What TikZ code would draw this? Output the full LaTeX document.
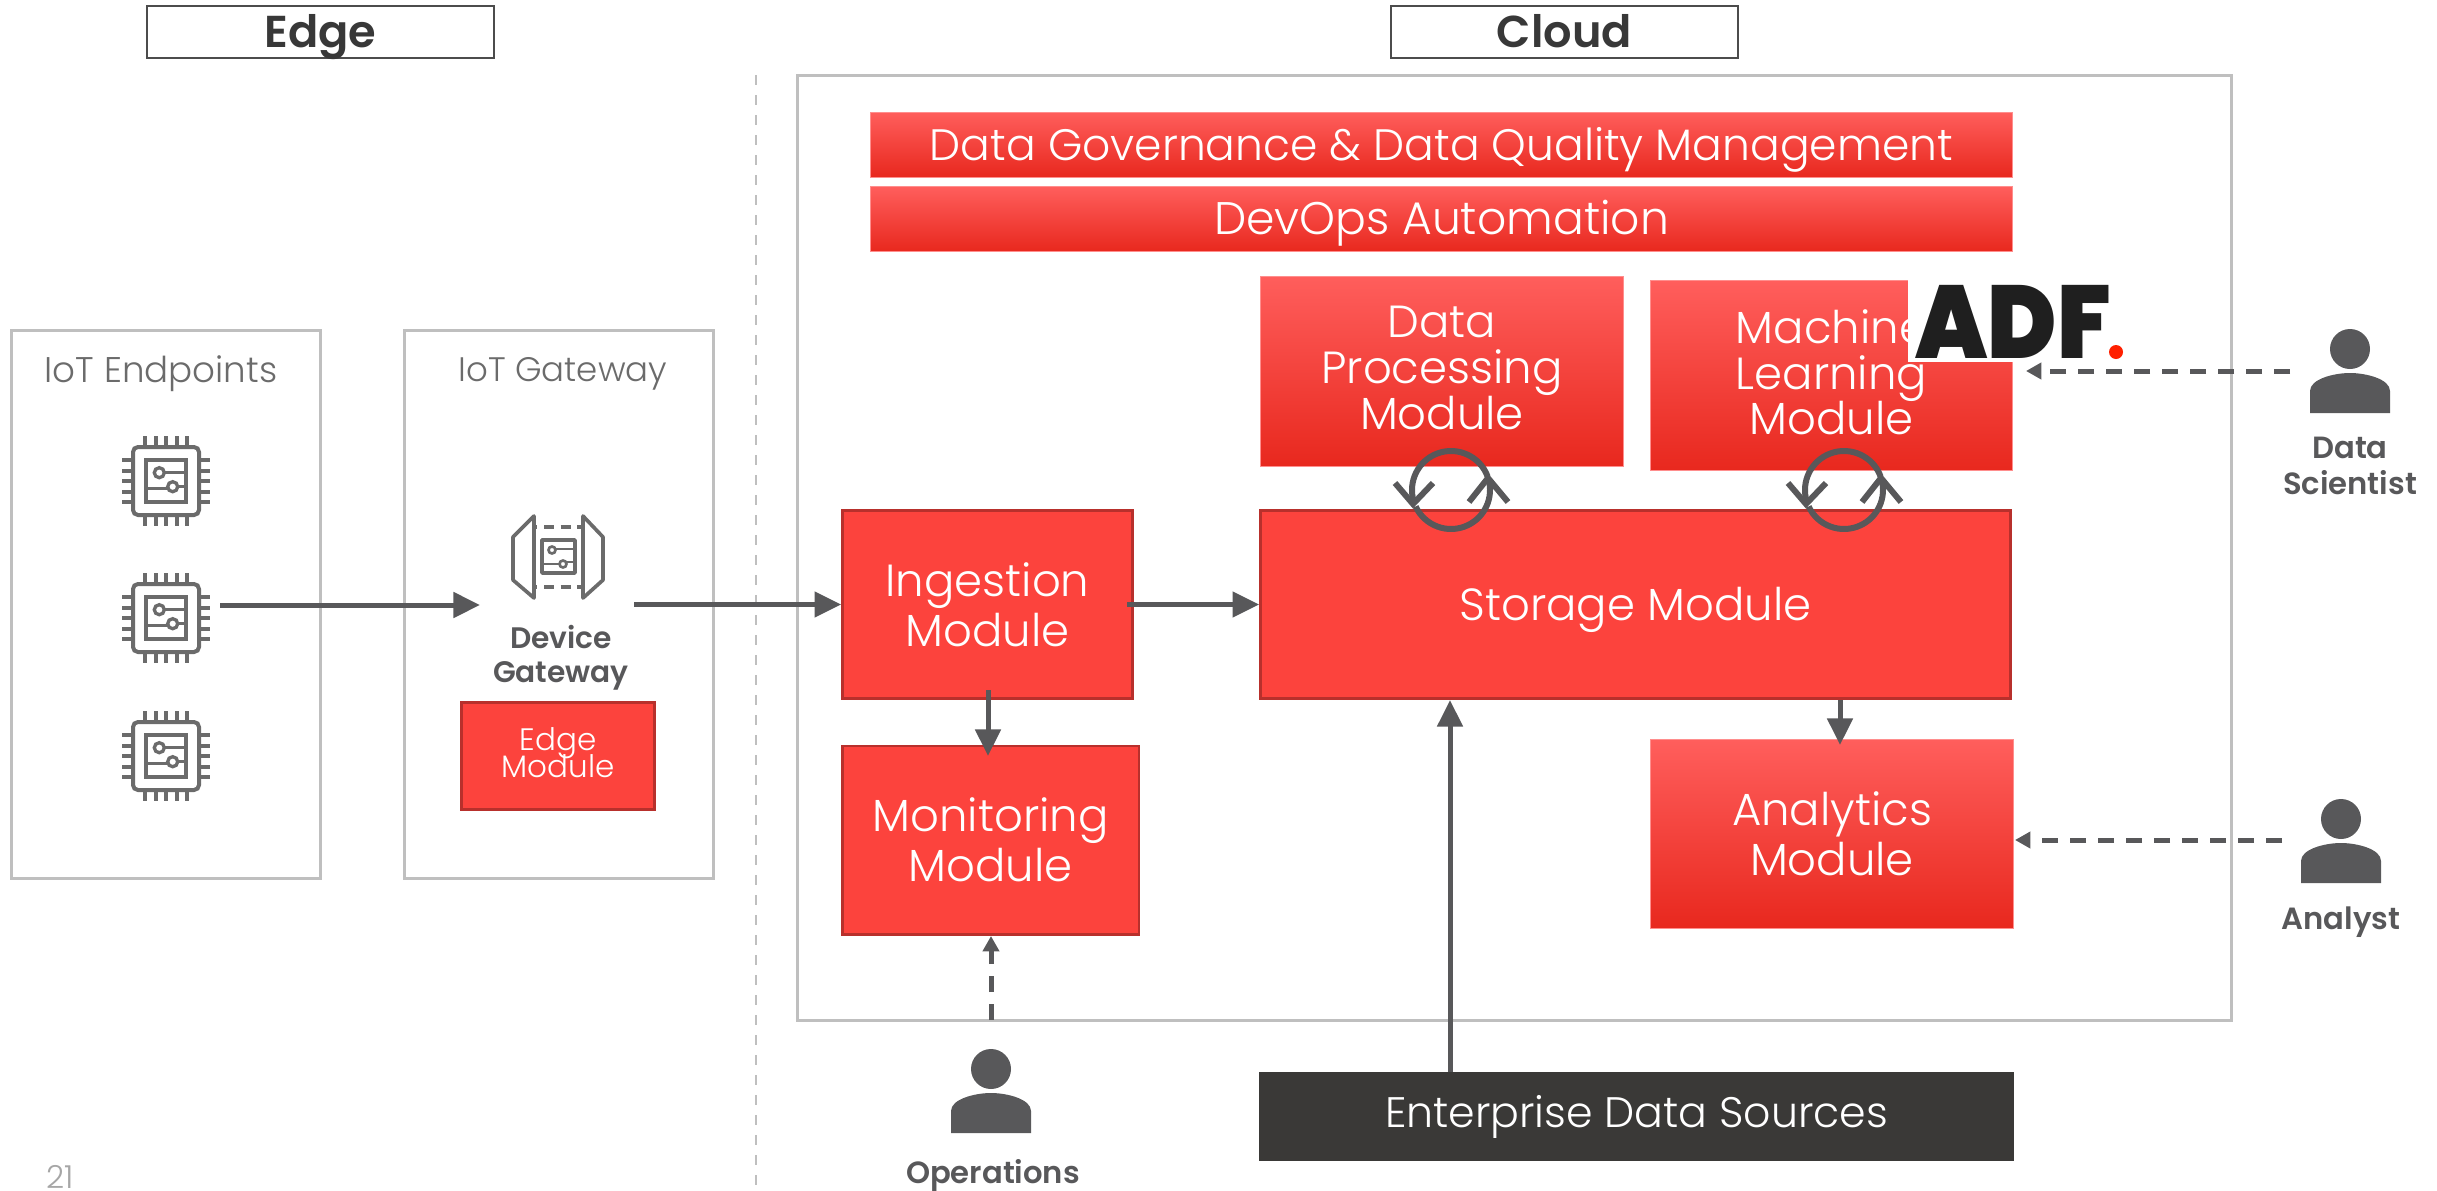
\documentclass[tikz,border=0pt]{standalone}
\usepackage{fontspec}
\setmainfont{Poppins Light}
\newfontfamily\boldfont{Poppins SemiBold}
\usetikzlibrary{arrows.meta,calc}
\lineskiplimit=-20pt

\definecolor{modred}{HTML}{FC433D}
\definecolor{modedge}{HTML}{B8302C}
\definecolor{gradtop}{HTML}{FF5E5C}
\definecolor{gradbot}{HTML}{E8281E}
\definecolor{framegray}{HTML}{BFBFBF}
\definecolor{icongray}{HTML}{6B6B6B}
\definecolor{arrowgray}{HTML}{58585A}
\definecolor{srcdark}{HTML}{3A3937}

\tikzset{
  flatmod/.style={draw=modedge, line width=.8pt, fill=modred, text=white, align=center, inner sep=0},
  gradmod/.style={top color=gradtop, bottom color=gradbot, draw=gradtop!70!white, line width=.3pt, text=white, align=center, inner sep=0},
  modtext/.style={font=\fontsize{13.5}{13.7}\selectfont},
  oneline/.style={text height=9.3pt, text depth=0pt},
  frame/.style={draw=framegray, line width=.9pt},
  zonetitle/.style={draw=black!70, line width=.7pt, oneline, font=\boldfont\fontsize{13.4}{14}\selectfont, text=black!78, inner sep=0},
  solidarrow/.style={draw=arrowgray, line width=1.5pt, -{Triangle[length=8pt,width=7.5pt]}},
  dasharrow/.style={draw=arrowgray, line width=1.5pt, dash pattern=on 4.8pt off 3.6pt, -{Triangle[length=4.6pt,width=4.8pt]}},
  rolelabel/.style={font=\boldfont\fontsize{9.2}{10.7}\selectfont, text=arrowgray, align=center, inner sep=0},
  chip/.pic={
    \draw [icongray, line width=1.2pt, rounded corners=1.5pt] (-33, -34) rectangle (33, 34);
    \draw [icongray, line width=1.2pt] (-20, -21) rectangle (20, 21);
    \foreach \p in {-21, -10.5, 0, 10.5, 21} {
      \draw [icongray, line width=1.2pt] (\p, -34) -- (\p, -45);
      \draw [icongray, line width=1.2pt] (\p, 34) -- (\p, 45);
      \draw [icongray, line width=1.2pt] (-33, \p) -- (-44, \p);
      \draw [icongray, line width=1.2pt] (33, \p) -- (44, \p);
    }
    \draw [icongray, line width=1pt] (-6.7, -8.3) circle (5);
    \draw [icongray, line width=1pt] (6.7, 5.7) circle (5);
    \draw [icongray, line width=1pt] (-1.7, -8.3) -- (20, -8.3);
    \draw [icongray, line width=1pt] (-20, 7.5) -- (1.7, 7.5);
    \draw [icongray, line width=1pt] (11.7, 5.7) -- (20, 5.7);
  },
  person/.pic={
    \fill [arrowgray] (0, -32) circle (20);
    \fill [arrowgray] (-40, 32) -- (-40, 10) .. controls (-40, -2) and (-16, -8) .. (0, -8) .. controls (16, -8) and (40, -2) .. (40, 10) -- (40, 32) -- cycle;
  },
  syncloop/.pic={
    \draw [arrowgray, line width=1.8pt] (-20:39) arc [start angle=-20, end angle=-197, radius=39];
    \draw [arrowgray, line width=1.8pt] (155:39) arc [start angle=155, end angle=-16, radius=39];
    \draw [arrowgray, line width=1.8pt, line join=miter] (-56, -7) -- (-38, 14) -- (-18, -7);
    \draw [arrowgray, line width=1.8pt, line join=miter] (18, 12) -- (37, -12) -- (57, 12);
  }
}

\begin{document}
\begin{tikzpicture}[x=.3pt, y=-.3pt]
  \useasboundingbox (0, 0) rectangle (2437, 1191);

  % zones
  \node [zonetitle, minimum width=104pt, minimum height=15.5pt] (edgetitle) at (320.5, 32) {Edge};
  \node [zonetitle, minimum width=104pt, minimum height=15.5pt] (cloudtitle) at (1564.5, 32) {Cloud};
  \draw [framegray, line width=.5pt, dashed] (756, 75) -- (756, 1191);
  \draw [frame] (797, 75) rectangle (2231, 1020);
  \draw [frame] (11, 330) rectangle (320, 878);
  \draw [frame] (404, 330) rectangle (713, 878);
  \node [text=icongray, font=\fontsize{10.7}{12}\selectfont] (endpointlabel) at (161, 374) {IoT Endpoints};
  \node [text=icongray, font=\fontsize{10.2}{12}\selectfont] (gatewaylabel) at (563, 374) {IoT Gateway};
  \node [text=black!35, inner sep=0, font=\fontsize{9.5}{11}\selectfont] (pagenum) at (60, 1177) {21};

  % icons at the edge
  \pic at (166, 481) {chip};
  \pic at (166, 618) {chip};
  \pic at (166, 756) {chip};
  \draw [icongray, line width=1.1pt, line join=round] (534, 516) -- (513, 537) -- (513, 580) -- (534, 598) -- cycle;
  \draw [icongray, line width=1.1pt, line join=round] (583, 516) -- (603, 537) -- (603, 580) -- (583, 598) -- cycle;
  \draw [icongray, line width=1.1pt, line join=round] (542, 540) rectangle (575, 573);
  \draw [icongray, line width=1.1pt, dash pattern=on 3pt off 2pt, dash phase=2pt] (534, 527) -- (583, 527);
  \draw [icongray, line width=1.1pt, dash pattern=on 3pt off 2pt, dash phase=2pt] (534, 587) -- (583, 587);
  \draw [icongray, line width=.8pt] (552, 550) circle (3.5);
  \draw [icongray, line width=.8pt] (563, 564) circle (3.5);
  \draw [icongray, line width=.8pt] (555.5, 549) -- (575, 549);
  \draw [icongray, line width=.8pt] (542, 564) -- (559.5, 564);
  \draw [icongray, line width=.8pt] (566.5, 562) -- (575, 562);
  \node [rolelabel, font=\boldfont\fontsize{8.9}{10.2}\selectfont] (devlabel) at (561, 658) {Device\\Gateway};
  \node [flatmod, text depth=2pt, minimum width=58pt, minimum height=32pt, font=\fontsize{9.3}{8}\selectfont] (edgemod) at (558, 756) {Edge\\Module};

  % cloud modules
  \node [gradmod, oneline, minimum width=342.5pt, minimum height=19.5pt, font=\fontsize{13.2}{15}\selectfont] (governance) at (1441.5, 144.5) {Data Governance \& Data Quality Management};
  \node [gradmod, oneline, minimum width=342.5pt, minimum height=19.5pt, font=\fontsize{13.7}{15}\selectfont] (devops) at (1441.5, 219) {DevOps Automation};
  \node [gradmod, modtext, text depth=2pt, minimum width=109pt, minimum height=57pt] (procmod) at (1442, 371) {Data\\Processing\\Module};
  \node [gradmod, modtext, text depth=2pt, minimum width=108.6pt, minimum height=57pt] (mlmod) at (1831.5, 375.5) {Machine\\Learning\\Module};
  \node [flatmod, modtext, oneline, minimum width=225pt, minimum height=56.5pt] (storage) at (1635.5, 604.5) {Storage Module};
  \node [flatmod, modtext, minimum width=87pt, minimum height=56.5pt] (ingest) at (987.5, 604.5) {Ingestion\\[1.2pt]Module};
  \node [flatmod, modtext, minimum width=89pt, minimum height=56.5pt] (monitor) at (990.5, 840) {Monitoring\\[1.2pt]Module};
  \node [gradmod, modtext, minimum width=109pt, minimum height=56.5pt] (analytics) at (1832, 834) {Analytics\\[1.2pt]Module};
  \node [fill=srcdark, text=white, font=\fontsize{12.8}{14}\selectfont, inner sep=0, minimum width=226.5pt, minimum height=26.5pt] (sources) at (1636.5, 1116.5) {Enterprise Data Sources};

  % logo
  \fill [white] (1908, 276) rectangle (2125, 362);
  \node [font=\fontspec{Poppins Black}\fontsize{31}{31}\selectfont, text=black!88, inner sep=0, xscale=.905] (logo) at (2013, 322) {ADF};
  \fill [red!75!orange] (2116, 352) circle (7);

  % people
  \pic at (2350, 381) {person};
  \pic at (2341, 851) {person};
  \pic at (991, 1101) {person};
  \node [rolelabel] (scientist) at (2350, 466) {Data\\Scientist};
  \node [rolelabel] (analyst) at (2341, 922) {Analyst};
  \node [rolelabel] (operations) at (993, 1176) {Operations};

  % free ends
  \coordinate (chipout) at (220, 605);
  \coordinate (gwin) at (480, 605);
  \coordinate (gwout) at (634, 604.5);
  \coordinate (ingestout) at (1127, 604.5);
  \coordinate (monfrom) at (988, 690);
  \coordinate (montop) at (988, 756);
  \coordinate (antop) at (1840, 745);
  \coordinate (srcup) at (1450, 1072);
  \coordinate (opsout) at (991, 1020);
  \coordinate (sciout) at (2290, 371);
  \coordinate (mlin) at (2026, 371);
  \coordinate (anaout) at (2282, 840);
  \coordinate (anain) at (2015, 840);
  \coordinate (montip) at (991, 936);

  \draw [solidarrow] (chipout) -- (gwin);
  \draw [solidarrow] (gwout) -- (ingest.west);
  \draw [solidarrow] (ingestout) -- (storage.west);
  \draw [solidarrow] (monfrom) -- (montop);
  \draw [solidarrow] (storage.south -| antop) -- (antop);
  \draw [solidarrow] (srcup) -- (storage.south -| srcup);
  \draw [dasharrow] (opsout) -- (montip);
  \draw [dasharrow] (sciout) -- (mlin);
  \draw [dasharrow] (anaout) -- (anain);

  \pic at (1451, 490) {syncloop};
  \pic at (1844, 490) {syncloop};
\end{tikzpicture}
\end{document}
